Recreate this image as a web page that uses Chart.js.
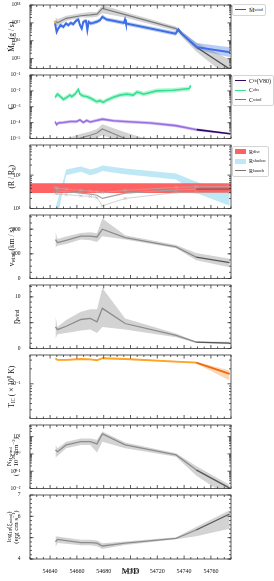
<!DOCTYPE html>
<html><head><meta charset="utf-8">
<script src="https://cdn.jsdelivr.net/npm/chart.js@4.4.1/dist/chart.umd.min.js"></script>
<style>
body{margin:0;background:#fff;width:274px;height:581px;position:relative;overflow:hidden;font-family:'Liberation Serif','DejaVu Serif',serif}
canvas{position:absolute;left:0}
.leg{position:absolute;background:#fff;border:1px solid #d4d4d4;border-radius:2px;font-size:6px;color:#111;padding:0 2px}
.row{display:flex;align-items:center;height:9.5px;white-space:nowrap}
.sw{display:inline-block;width:11px;margin-right:3px}
sub{font-size:70%;vertical-align:-1.5px;line-height:0}
</style></head><body>
<canvas id="p0" width="274" height="80" style="top:-5px"></canvas>
<canvas id="p1" width="274" height="80" style="top:65px"></canvas>
<canvas id="p2" width="274" height="80" style="top:135px"></canvas>
<canvas id="p3" width="274" height="80" style="top:205px"></canvas>
<canvas id="p4" width="274" height="80" style="top:275px"></canvas>
<canvas id="p5" width="274" height="80" style="top:345px"></canvas>
<canvas id="p6" width="274" height="80" style="top:415px"></canvas>
<canvas id="p7" width="274" height="96" style="top:485px"></canvas>

<div class="leg" style="left:232px;top:4px">
  <div class="row"><span class="sw" style="border-top:1.5px solid #555"></span>Ṁ<sub>wind</sub></div>
</div>
<div class="leg" style="left:232px;top:75px">
  <div class="row"><span class="sw" style="border-top:1.5px solid #2e0b62"></span>C<sub>fit</sub>(V80)</div>
  <div class="row"><span class="sw" style="border-top:1.5px solid #33e08f"></span>C<sub>obs</sub></div>
  <div class="row"><span class="sw" style="border-top:1.5px solid #777"></span>C<sub>wind</sub></div>
</div>
<div class="leg" style="left:232px;top:146px">
  <div class="row"><span class="sw" style="height:5px;background:#ff6262"></span>R<sub>disc</sub></div>
  <div class="row"><span class="sw" style="height:5px;background:#bfe8f6"></span>R<sub>shadow</sub></div>
  <div class="row"><span class="sw" style="border-top:1.5px solid #777"></span>R<sub>launch</sub></div>
</div>

<script>
// ---- data ----
const xTicks = [54640, 54660, 54680, 54700, 54720, 54740, 54760];

// wind solution epochs
const windT = [54644, 54645.5, 54652, 54663, 54670, 54675, 54679, 54696, 54734, 54749, 54774];

// panel 1: mass flow (g/s)
const mdotT = [54643.7, 54644.9, 54646.1, 54647.9, 54649.9, 54651.9, 54653.6, 54655.4, 54657.3, 54659.3, 54661.1, 54662.3, 54663.6, 54664.8, 54666.8, 54667.8, 54668.8, 54670.3, 54672.2, 54674.8, 54677.2, 54679, 54682.2, 54687.2, 54695.1, 54695.9, 54696.6, 54733.7, 54735.7, 54738.2, 54749.4, 54774.3];
const mdotIn = [9.3e16, 3.1e16, 4.8e16, 7.4e16, 5.9e16, 9.3e16, 7.4e16, 1.0e17, 8.5e16, 1.3e17, 1.55e17, 7.4e16, 4.8e16, 1.15e17, 1.3e17, 3.9e16, 1.15e17, 9.3e16, 1.0e17, 1.15e17, 1.4e17, 2.2e17, 1.55e17, 1.3e17, 1.0e17, 1.55e17, 9.3e16, 2.5e16, 4.3e16, 2.5e16, 4.4e15, 2.3e15];
const mdotInHi = [1.2e17, 4.0e16, 6.2e16, 9.6e16, 7.7e16, 1.2e17, 9.6e16, 1.3e17, 1.1e17, 1.7e17, 2.0e17, 9.6e16, 6.2e16, 1.5e17, 1.7e17, 5.1e16, 1.5e17, 1.2e17, 1.3e17, 1.5e17, 1.8e17, 2.9e17, 2.0e17, 1.7e17, 1.3e17, 2.0e17, 1.2e17, 3.3e16, 5.6e16, 3.3e16, 7.5e15, 4.3e15];
const mdotInLo = [7.2e16, 2.4e16, 3.7e16, 5.7e16, 4.5e16, 7.2e16, 5.7e16, 7.7e16, 6.5e16, 1.0e17, 1.2e17, 5.7e16, 3.7e16, 8.8e16, 1.0e17, 3.0e16, 8.8e16, 7.2e16, 7.7e16, 8.8e16, 1.08e17, 1.7e17, 1.2e17, 1.0e17, 7.7e16, 1.2e17, 7.2e16, 1.9e16, 3.3e16, 1.9e16, 3.2e15, 1.2e15];
const mdotWind = [1.3e17, 1.0e17, 1.8e17, 2.5e17, 2.8e17, 3.1e17, 6.5e17, 2.9e17, 4.8e16, 4.4e15, 2.6e14];
const mdotWindHi = [2.2e17, 1.6e17, 2.5e17, 3.5e17, 4.0e17, 4.0e17, 1.0e18, 4.0e17, 6.3e16, 7.9e15, 8.9e14];
const mdotWindLo = [7.1e16, 6.3e16, 1.26e17, 2.0e17, 2.0e17, 2.2e17, 3.5e17, 2.0e17, 3.5e16, 2.5e15, 8e13];
const mdotOrangeT = [54643.4, 54644.1];
const mdotOrange = [1.3e17, 8.5e16];
const mdotTicks = [1e15, 1e16, 1e17, 1e18];

// panel 2: covering factors
const cObsT = [54643.7, 54645.4, 54647.4, 54649.9, 54652.4, 54654.9, 54656.1, 54658.6, 54660.3, 54661.1, 54662.3, 54664.8, 54667.8, 54670.3, 54674.8, 54677.2, 54679.7, 54682.2, 54687.2, 54692.1, 54697.1, 54702.1, 54704.6, 54707.1, 54709.6, 54719.5, 54732, 54743.9, 54744.9];
const cObs = [3.9e-3, 6.2e-3, 4.7e-3, 2.9e-3, 3.9e-3, 5.4e-3, 4.3e-3, 6.2e-3, 1.0e-2, 1.23e-2, 6.2e-3, 4.7e-3, 4.3e-3, 3.4e-3, 2.1e-3, 2.4e-3, 1.9e-3, 2.6e-3, 3.9e-3, 5.4e-3, 6.2e-3, 5.4e-3, 8.3e-3, 7.6e-3, 6.2e-3, 1.0e-2, 1.1e-2, 1.4e-2, 2.2e-2];
const cObsHi = [5.5e-3, 8.7e-3, 6.6e-3, 4.1e-3, 5.5e-3, 7.6e-3, 6.0e-3, 8.7e-3, 1.4e-2, 1.7e-2, 8.7e-3, 6.6e-3, 6.0e-3, 4.8e-3, 2.9e-3, 3.4e-3, 2.7e-3, 3.6e-3, 5.5e-3, 7.6e-3, 8.7e-3, 7.6e-3, 1.16e-2, 1.06e-2, 8.7e-3, 1.4e-2, 1.5e-2, 1.9e-2, 3.0e-2];
const cObsLo = [2.8e-3, 4.4e-3, 3.4e-3, 2.1e-3, 2.8e-3, 3.9e-3, 3.1e-3, 4.4e-3, 7.1e-3, 8.8e-3, 4.4e-3, 3.4e-3, 3.1e-3, 2.4e-3, 1.5e-3, 1.7e-3, 1.4e-3, 1.9e-3, 2.8e-3, 3.9e-3, 4.4e-3, 3.9e-3, 5.9e-3, 5.4e-3, 4.4e-3, 7.1e-3, 7.9e-3, 1.0e-2, 1.6e-2];
const cFitT = [54643.7, 54644.9, 54646.1, 54649.9, 54654.9, 54659.8, 54662.3, 54664.8, 54667.3, 54669.8, 54674.8, 54679, 54687.2, 54695.9, 54714.5, 54733.7, 54749.4, 54774.3];
const cFit = [1.17e-4, 7.4e-5, 9.5e-5, 1.02e-4, 1.17e-4, 1.17e-4, 1.5e-4, 1.02e-4, 1.38e-4, 1.1e-4, 1.38e-4, 1.66e-4, 1.32e-4, 1.17e-4, 9.5e-5, 6.5e-5, 3.6e-5, 2.0e-5];
const cFitHi = [1.47e-4, 9.3e-5, 1.2e-4, 1.28e-4, 1.47e-4, 1.47e-4, 1.9e-4, 1.28e-4, 1.74e-4, 1.38e-4, 1.74e-4, 2.1e-4, 1.66e-4, 1.47e-4, 1.2e-4, 8.2e-5, 4.4e-5, 2.2e-5];
const cFitLo = [9.3e-5, 5.9e-5, 7.5e-5, 8.1e-5, 9.3e-5, 9.3e-5, 1.19e-4, 8.1e-5, 1.1e-4, 8.7e-5, 1.1e-4, 1.32e-4, 1.05e-4, 9.3e-5, 7.5e-5, 5.2e-5, 2.9e-5, 1.8e-5];
const cWind = [1.6e-6, 2.5e-6, 5e-6, 1.1e-5, 1.6e-5, 2.2e-5, 4.0e-5, 1.0e-5, 1.3e-6, 1e-7, 1e-8];
const cWindHi = [3.2e-6, 5e-6, 1e-5, 2e-5, 2.8e-5, 4e-5, 7.9e-5, 2.5e-5, 2.5e-6, 2e-7, 2e-8];
const cWindLo = [8e-7, 1.3e-6, 2.5e-6, 6.3e-6, 8e-6, 1.1e-5, 1.6e-5, 5e-6, 6.3e-7, 5e-8, 5e-9];
const cTicks = [1e-5, 1e-4, 1e-3, 1e-2, 1e-1];

// panel 3: radii (R_g)
const rDiscT = [54625, 54775];
const rDiscHi = [57, 57];
const rDiscLo = [29, 29];
const rShadowHi = [10, 17, 148, 182, 148, 166, 195, 158, 112, 63, 29];
const rShadowLo = [3.2, 5.6, 100, 126, 100, 112, 132, 107, 74, 29, 12];
const rLaunch = [35, 33, 32, 29, 27, 25, 20, 29, 36, 38, 38];
const rLaunchHi = [42, 40, 38, 35, 33, 32, 30, 35, 43, 45, 46];
const rLaunchLo = [28, 27.5, 26, 24, 23, 21, 12, 20, 30, 30, 30];
const rTicks = [10, 100];

// panel 4: v_wind (km/s)
const vWind = [316, 291, 310, 343, 343, 337, 400, 332, 256, 174, 128];
const vWindHi = [380, 320, 340, 370, 376, 366, 487, 351, 271, 207, 161];
const vWindLo = [250, 265, 280, 316, 310, 296, 343, 316, 245, 147, 92];
const vTicks = [0, 200, 400];

// panel 5: eta_wind
const eta = [4.18, 3.66, 4.31, 5.62, 5.82, 5.16, 7.78, 4.84, 2.55, 1.24, 1.05];
const etaHi = [6.27, 4.18, 5.5, 7.1, 7.6, 7.6, 11.7, 5.8, 2.9, 1.37, 1.3];
const etaLo = [1.9, 2.75, 3.0, 3.5, 3.7, 3.0, 4.18, 3.66, 2.2, 1.05, 0.8];
const etaTicks = [0, 5, 10];

// panel 6: T_IC (1e8 K)
const tIC = [0.327, 0.302, 0.302, 0.316, 0.31, 0.298, 0.327, 0.316, 0.279, 0.267, 0.158];
const tICHi = [0.338, 0.312, 0.312, 0.327, 0.32, 0.308, 0.338, 0.327, 0.289, 0.277, 0.185];
const tICLo = [0.316, 0.292, 0.292, 0.305, 0.30, 0.288, 0.316, 0.305, 0.269, 0.257, 0.116];
const tTicks = [0.1];

// panel 7: N_H,wind (1e20 cm^-2)
const nH = [1.7, 1.35, 3.3, 5.1, 5.1, 3.8, 14.5, 3.3, 0.87, 0.12, 0.0105];
const nHHi = [3.3, 2.1, 5.1, 7.9, 7.9, 6.5, 19.5, 4.5, 1.1, 0.2, 0.016];
const nHLo = [0.62, 0.76, 2.1, 3.3, 3.3, 1.2, 5.1, 2.1, 0.69, 0.056, 0.003];
const nTicks = [0.01, 0.1, 1, 10];

// panel 8: log10(xi_wind)
const xi = [4.81, 4.92, 4.86, 4.77, 4.77, 4.74, 4.61, 4.74, 4.97, 5.36, 6.11];
const xiHi = [5.07, 5.05, 5.0, 4.9, 4.9, 4.87, 4.74, 4.82, 5.02, 5.5, 6.28];
const xiLo = [4.55, 4.75, 4.72, 4.65, 4.65, 4.6, 4.47, 4.66, 4.92, 5.07, 5.42];
const xiTicks = [4, 5, 6, 7];

// ---- helpers ----
const FONT = "'Liberation Serif','DejaVu Serif',serif";
Chart.defaults.font.family = FONT;
Chart.defaults.color = '#111';

const SUP = {'-': '⁻', '0': '⁰', '1': '¹', '2': '²', '3': '³', '4': '⁴', '5': '⁵', '6': '⁶', '7': '⁷', '8': '⁸', '9': '⁹'};
const logLabel = v => '10' + String(Math.round(Math.log10(v))).split('').map(c => SUP[c]).join('');

const pts = (t, v) => t.map((x, i) => ({x: x, y: v[i]}));

function band(t, hi, lo, color, order) {
	return [
		{data: pts(t, hi), borderWidth: 0, borderColor: 'transparent', pointRadius: 0, backgroundColor: color, fill: '+1', order: order},
		{data: pts(t, lo), borderWidth: 0, borderColor: 'transparent', pointRadius: 0, fill: false, order: order}
	];
}

function line(t, v, color, width, order, dark) {
	const ds = {data: pts(t, v), borderColor: color, borderWidth: width, pointRadius: 0, fill: false, order: order, tension: 0};
	if (dark) ds.segment = {borderColor: c => c.p0.parsed.x >= 54748 ? dark : color};
	return ds;
}

function logMinor(lo, hi) {
	const out = [];
	for (let d = Math.floor(Math.log10(lo)); d <= Math.ceil(Math.log10(hi)); d++) {
		for (let k = 2; k < 10; k++) {
			const v = k * Math.pow(10, d);
			if (v > lo && v < hi) out.push(v);
		}
	}
	return out;
}
function linMinor(lo, hi, step) {
	const out = [];
	for (let v = Math.ceil(lo / step) * step; v <= hi; v += step) out.push(v);
	return out;
}

function drawRich(ctx, str, cx, cy, size) {
	const parts = [];
	str.replace(/_\{([^}]*)\}|\^\{([^}]*)\}|([^_^]+)/g, (m, sb, sp, nm) => {
		if (sb !== undefined) parts.push({t: sb, s: size * 0.68, dy: size * 0.22});
		else if (sp !== undefined) parts.push({t: sp, s: size * 0.68, dy: -size * 0.35});
		else parts.push({t: nm, s: size, dy: 0});
		return m;
	});
	let w = 0;
	parts.forEach(p => { ctx.font = p.s + 'px ' + FONT; p.w = ctx.measureText(p.t).width; w += p.w; });
	ctx.save();
	ctx.translate(cx, cy);
	ctx.rotate(-Math.PI / 2);
	ctx.textBaseline = 'middle';
	ctx.fillStyle = '#111';
	let x = -w / 2;
	parts.forEach(p => { ctx.font = p.s + 'px ' + FONT; ctx.fillText(p.t, x, p.dy); x += p.w; });
	ctx.restore();
}

const panelCfg = {};

// box, inward ticks on all sides, rotated y title
const frameTicks = {
	id: 'frameTicks',
	afterDraw(chart) {
		const cfg = panelCfg[chart.canvas.id];
		const {ctx, chartArea: a} = chart;
		const xs = chart.scales.x, ys = chart.scales.y;
		ctx.save();
		ctx.strokeStyle = '#333';
		ctx.lineWidth = 0.8;
		ctx.strokeRect(a.left, a.top, a.right - a.left, a.bottom - a.top);
		ctx.beginPath();
		for (let v = 54625; v <= 54775; v += 5) {
			const px = xs.getPixelForValue(v);
			const len = xTicks.includes(v) ? 3.5 : 2;
			ctx.moveTo(px, a.bottom); ctx.lineTo(px, a.bottom - len);
			ctx.moveTo(px, a.top); ctx.lineTo(px, a.top + len);
		}
		const yt = (v, len) => {
			const py = ys.getPixelForValue(v);
			if (py < a.top - 0.5 || py > a.bottom + 0.5) return;
			ctx.moveTo(a.left, py); ctx.lineTo(a.left + len, py);
			ctx.moveTo(a.right, py); ctx.lineTo(a.right - len, py);
		};
		cfg.yTicks.forEach(v => yt(v, 3.5));
		cfg.yMinor.forEach(v => yt(v, 2));
		ctx.stroke();
		ctx.restore();
		const cy = (a.top + a.bottom) / 2;
		cfg.titles.forEach((s, i) => drawRich(ctx, s, cfg.xs[i], cy, cfg.tsize));
	}
};

function makePanel(cfg) {
	panelCfg[cfg.id] = cfg;
	const last = cfg.id === 'p7';
	new Chart(document.getElementById(cfg.id), {
		type: 'line',
		data: {datasets: cfg.datasets},
		options: {
			animation: false,
			responsive: false,
			events: [],
			layout: {padding: {top: 10, right: 43, left: 0, bottom: last ? 4 : 6.5}},
			plugins: {legend: {display: false}, tooltip: {enabled: false}},
			scales: {
				x: {
					type: 'linear', min: 54625, max: 54775, display: last,
					grid: {display: false}, border: {display: false},
					afterBuildTicks: s => { s.ticks = xTicks.map(v => ({value: v})); },
					afterFit: s => { if (last) { s.height = 18; s.paddingLeft = 0; s.paddingRight = 0; } },
					ticks: {callback: v => String(v), font: {size: 6}, padding: 1, autoSkip: false, maxRotation: 0},
					title: {display: true, text: 'MJD', font: {size: 9}, padding: {top: 0, bottom: 0}}
				},
				y: {
					type: cfg.log ? 'logarithmic' : 'linear', min: cfg.min, max: cfg.max,
					grid: {display: false}, border: {display: false},
					afterBuildTicks: s => { s.ticks = cfg.yTicks.map(v => ({value: v})); },
					afterFit: s => { s.width = 30; s.paddingTop = 0; s.paddingBottom = 0; },
					ticks: {callback: v => cfg.log ? logLabel(v) : String(v), font: {size: 5.5}, padding: 1.5}
				}
			}
		},
		plugins: [frameTicks]
	});
}

const GRAY_BAND = 'rgba(150,150,150,0.42)';

makePanel({
	id: 'p0', log: true, min: 2.8e14, max: 1e18, yTicks: mdotTicks, yMinor: logMinor(2.8e14, 1e18),
	titles: ['Ṁ_{in} (g / s)'], xs: [12], tsize: 7.5,
	datasets: [
		line(mdotT, mdotIn, '#3d6ee6', 2, 0),
		line(mdotOrangeT, mdotOrange, '#f4b13a', 2, 0),
		line(windT, mdotWind, '#7a7a7a', 1.2, 1, '#4a4a4a'),
		...band(mdotT, mdotInHi, mdotInLo, 'rgba(61,110,230,0.35)', 5),
		...band(windT, mdotWindHi, mdotWindLo, GRAY_BAND, 6)
	]
});

makePanel({
	id: 'p1', log: true, min: 1e-5, max: 1e-1, yTicks: cTicks, yMinor: logMinor(1e-5, 1e-1),
	titles: ['C'], xs: [12], tsize: 8,
	datasets: [
		line(cObsT, cObs, '#33e08f', 1.6, 0),
		line(cFitT, cFit, '#9a6fe0', 1.6, 0, '#2e0b62'),
		line(windT, cWind, '#8a8a8a', 1.2, 1),
		...band(cObsT, cObsHi, cObsLo, 'rgba(51,224,143,0.35)', 5),
		...band(cFitT, cFitHi, cFitLo, 'rgba(154,111,224,0.4)', 5),
		...band(windT, cWindHi, cWindLo, GRAY_BAND, 6)
	]
});

const crossLine = (v) => Object.assign(line(windT, v, '#b3b3b3', 0.6, 1), {pointStyle: 'crossRot', pointRadius: 2.2, pointBorderColor: '#b3b3b3', pointBorderWidth: 0.6});
makePanel({
	id: 'p2', log: true, min: 10, max: 800, yTicks: rTicks, yMinor: logMinor(10, 800),
	titles: ['(R / R_{g})'], xs: [12], tsize: 7.5,
	datasets: [
		line(windT, rLaunch, '#a0a0a0', 1.2, 0, '#666'),
		crossLine(rLaunchHi),
		crossLine(rLaunchLo),
		...band(rDiscT, rDiscHi, rDiscLo, '#ff6262', 5),
		...band(windT, rShadowHi, rShadowLo, '#bfe8f6', 6)
	]
});

makePanel({
	id: 'p3', log: false, min: 0, max: 515, yTicks: vTicks, yMinor: linMinor(0, 515, 50),
	titles: ['v_{wind} (km / s)'], xs: [12], tsize: 7.5,
	datasets: [
		line(windT, vWind, '#8c8c8c', 1.3, 0, '#555'),
		...band(windT, vWindHi, vWindLo, GRAY_BAND, 5)
	]
});

makePanel({
	id: 'p4', log: false, min: 0, max: 12.3, yTicks: etaTicks, yMinor: linMinor(0, 12.3, 1),
	titles: ['η_{wind}'], xs: [16], tsize: 7.5,
	datasets: [
		line(windT, eta, '#8c8c8c', 1.3, 0, '#555'),
		...band(windT, etaHi, etaLo, GRAY_BAND, 5)
	]
});

makePanel({
	id: 'p5', log: true, min: 0.02, max: 0.38, yTicks: tTicks, yMinor: logMinor(0.02, 0.38),
	titles: ['T_{IC} ( × 10^{8} K)'], xs: [12], tsize: 7.5,
	datasets: [
		line(windT, tIC, '#ffa51f', 1.8, 0, '#ee6a10'),
		...band(windT, tICHi, tICLo, 'rgba(250,150,60,0.38)', 5)
	]
});

makePanel({
	id: 'p6', log: true, min: 0.01, max: 47, yTicks: nTicks, yMinor: logMinor(0.01, 47),
	titles: ['N_{H,wind}', '( × 10^{20} cm^{−2})'], xs: [9, 16.5], tsize: 7,
	datasets: [
		line(windT, nH, '#8c8c8c', 1.3, 0, '#555'),
		...band(windT, nHHi, nHLo, GRAY_BAND, 5)
	]
});

makePanel({
	id: 'p7', log: false, min: 4, max: 7, yTicks: xiTicks, yMinor: linMinor(4, 7, 0.2),
	titles: ['log_{10}(ξ_{wind})', '(erg cm s^{−1})'], xs: [9, 16.5], tsize: 7,
	datasets: [
		line(windT, xi, '#8c8c8c', 1.3, 0, '#555'),
		...band(windT, xiHi, xiLo, GRAY_BAND, 5)
	]
});
</script>
</body></html>
